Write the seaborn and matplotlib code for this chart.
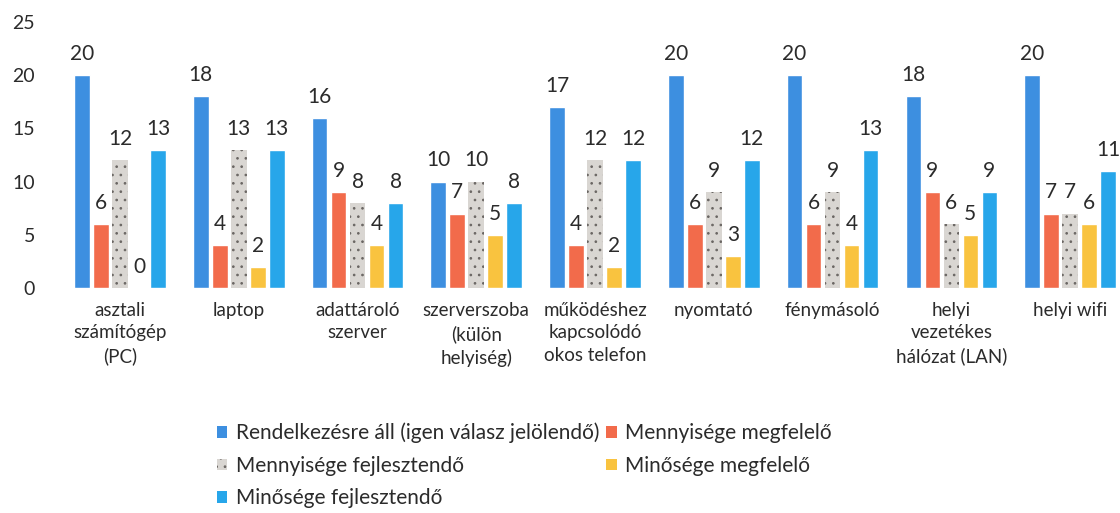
import matplotlib
matplotlib.use("Agg")
import matplotlib.pyplot as plt
from matplotlib.patches import Patch
import seaborn as sns
import pandas as pd

categories = [
    "asztali\nszámítógép\n(PC)",
    "laptop",
    "adattároló\nszerver",
    "szerverszoba\n(külön\nhelyiség)",
    "működéshez\nkapcsolódó\nokos telefon",
    "nyomtató",
    "fénymásoló",
    "helyi\nvezetékes\nhálózat (LAN)",
    "helyi wifi",
]
series_names = [
    "Rendelkezésre áll (igen válasz jelölendő)",
    "Mennyisége megfelelő",
    "Mennyisége fejlesztendő",
    "Minősége megfelelő",
    "Minősége fejlesztendő",
]
rendelkezesre_all = [20, 18, 16, 10, 17, 20, 20, 18, 20]
mennyiseg_megfelelo = [6, 4, 9, 7, 4, 6, 6, 9, 7]
mennyiseg_fejlesztendo = [12, 13, 8, 10, 12, 9, 9, 6, 7]
minoseg_megfelelo = [0, 2, 4, 5, 2, 3, 4, 5, 6]
minoseg_fejlesztendo = [13, 13, 8, 8, 12, 12, 13, 9, 11]
y_ticks = [0, 5, 10, 15, 20, 25]

colors = ["#3d8fe0", "#f26b4b", "#d9d6d2", "#f9c33f", "#27a6ea"]

values = [rendelkezesre_all, mennyiseg_megfelelo, mennyiseg_fejlesztendo,
          minoseg_megfelelo, minoseg_fejlesztendo]
rows = []
for name, vals in zip(series_names, values):
    for cat, v in zip(categories, vals):
        rows.append({"kategoria": cat, "sorozat": name, "ertek": v})
df = pd.DataFrame(rows)

sns.set_theme(style="white")
plt.rcParams["font.family"] = ["Lato", "DejaVu Sans"]
plt.rcParams["hatch.linewidth"] = 0.7
text_color = "#2b2b2b"

fig = plt.figure(figsize=(11.2, 5.13), dpi=100)
ax = fig.add_axes([60 / 1120, 225 / 513, 1060 / 1120, 266 / 513])

sns.barplot(data=df, x="kategoria", y="ertek", hue="sorozat",
            order=categories, hue_order=series_names,
            palette=colors, width=0.8, gap=0.18, saturation=1,
            legend=False, ax=ax)

# speckled texture on the "Mennyisége fejlesztendő" bars
for bar in ax.containers[2]:
    bar.set_hatch("..")
    bar.set_edgecolor("#6a6663")
    bar.set_linewidth(0)

for cont in ax.containers:
    ax.bar_label(cont, fmt="%d", padding=8, fontsize=15, color=text_color)

ax.set_ylim(0, 25)
ax.set_xlim(-0.505, 8.42)
ax.set_yticks(y_ticks)
ax.set_xlabel("")
ax.set_ylabel("")
for s in ax.spines.values():
    s.set_visible(False)
ax.tick_params(axis="y", length=0, pad=18, labelsize=14, labelcolor=text_color)
ax.tick_params(axis="x", length=0, pad=10, labelsize=13.5, labelcolor=text_color)
for lbl in ax.get_xticklabels():
    lbl.set_linespacing(1.4)
    lbl.set_verticalalignment("top")

handles = [Patch(facecolor=c, edgecolor="none") for c in colors]
handles[2] = Patch(facecolor=colors[2], edgecolor="#6a6663", linewidth=0, hatch="..")
# row-major arrangement of the two-column legend
order = [0, 2, 4, 1, 3]
fig.legend([handles[i] for i in order], [series_names[i] for i in order],
           ncol=2, loc="upper left",
           bbox_to_anchor=(198 / 1120, 1 - 404 / 513), frameon=False,
           fontsize=15, handlelength=0.5, handleheight=0.5,
           handletextpad=0.4, columnspacing=0.35, labelspacing=0.6,
           labelcolor=text_color)

fig.savefig("out.png", dpi=100)
